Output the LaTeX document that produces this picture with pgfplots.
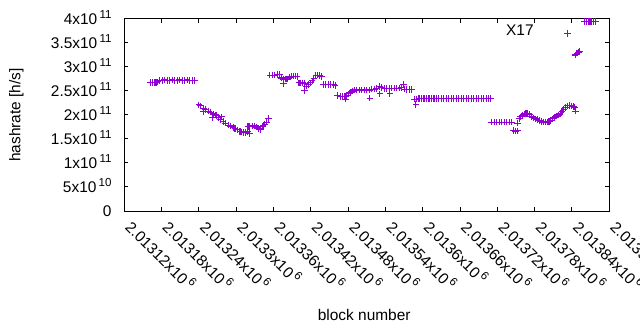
\documentclass[border=0pt]{standalone}
\usepackage{fontspec}
\setmainfont{Liberation Sans}
\usepackage{pgfplots}
\pgfplotsset{compat=1.18}
\definecolor{gpviolet}{RGB}{148,0,211}
\newcommand\ex[1]{\hspace{2.2bp}\smash{\raisebox{6.3bp}{\fontsize{11.6}{12}\selectfont #1}}}
\begin{document}
\fontsize{15.5}{18}\selectfont
\begin{tikzpicture}
\begin{axis}[
  at={(124.3bp,119bp)}, anchor=south west,
  scale only axis, width=485bp, height=192bp,
  xmin=2013120, xmax=2013900, ymin=0, ymax=4e11,
  scaled ticks=false,
  clip=false,
  axis line style={line width=1bp, black},
  tick style={line width=1bp, black},
  major tick length=4bp,
  tick align=inside,
  xtick={2013120,2013180,2013240,2013300,2013360,2013420,2013480,2013540,2013600,2013660,2013720,2013780,2013840,2013900},
  xticklabels={2.01312x10\ex{6},2.01318x10\ex{6},2.01324x10\ex{6},2.0133x10\ex{6},2.01336x10\ex{6},2.01342x10\ex{6},2.01348x10\ex{6},2.01354x10\ex{6},2.0136x10\ex{6},2.01366x10\ex{6},2.01372x10\ex{6},2.01378x10\ex{6},2.01384x10\ex{6},2.0139x10\ex{6}},
  ytick={0,5e10,1e11,1.5e11,2e11,2.5e11,3e11,3.5e11,4e11},
  yticklabels={0,5x10\ex{10},1x10\ex{11},1.5x10\ex{11},2x10\ex{11},2.5x10\ex{11},3x10\ex{11},3.5x10\ex{11},4x10\ex{11}},
  xticklabel shift=17bp,
  xticklabel style={rotate=-45, anchor=base west, inner sep=0pt},
  yticklabel style={anchor=east, inner sep=0pt, xshift=-12.6bp},
  xlabel={block number}, ylabel={hashrate [h/s]},
  every axis x label/.style={at={(rel axis cs:0.5,0)}, yshift=-104.1bp, xshift=-2.6bp, anchor=center},
  every axis y label/.style={at={(rel axis cs:0,0.5)}, xshift=-107.8bp, rotate=90, anchor=center},
  legend plot pos=right,
  legend style={draw=none, fill=none, inner sep=0pt, outer sep=0pt, at={(0.9212,0.934)}, anchor=east, nodes={inner sep=0pt}, column sep=30.8bp},
  legend image code/.code={\draw[#1, draw=gpviolet] plot coordinates {(0bp,-1.6bp)};},
]
\addplot[only marks, mark=+, mark size=3.3bp, draw=gpviolet, color=gpviolet, mark options={line width=1.1bp, draw=gpviolet, solid}] table[row sep=\\] {
x y \\
2013162 2.68e11 \\ 2013165 2.68e11 \\ 2013168 2.68e11 \\ 2013171 2.68e11 \\ 2013174 2.69e11 \\
2013177 2.72e11 \\ 2013181 2.72e11 \\ 2013185 2.73e11 \\ 2013189 2.72e11 \\ 2013193 2.72e11 \\
2013197 2.73e11 \\ 2013201 2.72e11 \\ 2013205 2.72e11 \\ 2013209 2.73e11 \\ 2013213 2.72e11 \\
2013217 2.72e11 \\ 2013221 2.73e11 \\ 2013225 2.72e11 \\ 2013229 2.72e11 \\ 2013233 2.72e11 \\
2013240 2.21e11 \\ 2013243 2.19e11 \\ 2013247 2.14e11 \\ 2013247 2.07e11 \\ 2013251 2.11e11 \\
2013255 2.08e11 \\ 2013259 2.06e11 \\ 2013262 1.95e11 \\ 2013263 2.02e11 \\ 2013266 2.00e11 \\
2013269 1.985e11 \\ 2013272 1.95e11 \\ 2013275 1.91e11 \\ 2013277 1.96e11 \\ 2013279 1.86e11 \\
2013283 1.83e11 \\ 2013287 1.79e11 \\ 2013291 1.77e11 \\ 2013295 1.74e11 \\ 2013298 1.72e11 \\
2013302 1.69e11 \\ 2013306 1.65e11 \\ 2013309 1.645e11 \\ 2013312 1.64e11 \\ 2013315 1.64e11 \\
2013318 1.65e11 \\ 2013319 1.76e11 \\ 2013321 1.62e11 \\ 2013322 1.76e11 \\ 2013326 1.77e11 \\
2013330 1.77e11 \\ 2013333 1.75e11 \\ 2013336 1.72e11 \\ 2013339 1.70e11 \\ 2013343 1.77e11 \\
2013346 1.81e11 \\ 2013349 1.85e11 \\ 2013352 1.93e11 \\
2013354 2.83e11 \\ 2013358 2.83e11 \\ 2013362 2.83e11 \\ 2013366 2.84e11 \\ 2013370 2.84e11 \\
2013373 2.77e11 \\ 2013376 2.75e11 \\ 2013376 2.66e11 \\ 2013380 2.75e11 \\ 2013383 2.75e11 \\
2013386 2.79e11 \\ 2013389 2.81e11 \\ 2013392 2.81e11 \\ 2013395 2.81e11 \\ 2013398 2.80e11 \\
2013401 2.67e11 \\ 2013404 2.67e11 \\ 2013407 2.67e11 \\ 2013410 2.66e11 \\ 2013410 2.51e11 \\
2013413 2.60e11 \\ 2013416 2.63e11 \\ 2013419 2.67e11 \\ 2013422 2.71e11 \\ 2013425 2.76e11 \\
2013428 2.83e11 \\ 2013431 2.83e11 \\ 2013434 2.82e11 \\ 2013437 2.80e11 \\ 2013440 2.64e11 \\
2013444 2.63e11 \\ 2013448 2.63e11 \\ 2013452 2.63e11 \\ 2013456 2.63e11 \\ 2013459 2.62e11 \\
2013463 2.40e11 \\ 2013467 2.39e11 \\ 2013471 2.385e11 \\ 2013475 2.38e11 \\ 2013476 2.33e11 \\
2013478 2.40e11 \\ 2013481 2.44e11 \\ 2013484 2.47e11 \\ 2013487 2.50e11 \\ 2013490 2.52e11 \\
2013494 2.52e11 \\ 2013498 2.52e11 \\ 2013502 2.52e11 \\ 2013506 2.52e11 \\ 2013510 2.52e11 \\
2013514 2.52e11 \\ 2013515 2.35e11 \\ 2013518 2.54e11 \\ 2013522 2.54e11 \\ 2013526 2.55e11 \\
2013530 2.59e11 \\ 2013531 2.44e11 \\ 2013534 2.57e11 \\ 2013538 2.55e11 \\ 2013542 2.55e11 \\
2013546 2.55e11 \\ 2013547 2.45e11 \\ 2013550 2.56e11 \\ 2013554 2.56e11 \\ 2013558 2.56e11 \\
2013562 2.56e11 \\ 2013566 2.57e11 \\ 2013569 2.64e11 \\ 2013570 2.54e11 \\ 2013574 2.53e11 \\
2013578 2.53e11 \\ 2013582 2.53e11 \\ 2013586 2.33e11 \\ 2013589 2.22e11 \\ 2013590 2.33e11 \\
2013594 2.34e11 \\ 2013598 2.34e11 \\ 2013602 2.34e11 \\ 2013606 2.34e11 \\ 2013610 2.34e11 \\
2013614 2.34e11 \\ 2013618 2.34e11 \\ 2013622 2.34e11 \\ 2013626 2.34e11 \\ 2013630 2.34e11 \\
2013634 2.34e11 \\ 2013638 2.34e11 \\ 2013642 2.34e11 \\ 2013646 2.34e11 \\ 2013650 2.34e11 \\
2013654 2.34e11 \\ 2013658 2.34e11 \\ 2013662 2.34e11 \\ 2013666 2.34e11 \\ 2013670 2.34e11 \\
2013674 2.34e11 \\ 2013678 2.34e11 \\ 2013682 2.34e11 \\ 2013686 2.34e11 \\ 2013690 2.34e11 \\
2013694 2.34e11 \\ 2013698 2.34e11 \\ 2013702 2.34e11 \\ 2013706 2.34e11 \\ 2013709 2.34e11 \\
2013711 1.85e11 \\ 2013715 1.85e11 \\ 2013719 1.85e11 \\ 2013723 1.85e11 \\ 2013727 1.85e11 \\
2013731 1.85e11 \\ 2013735 1.85e11 \\ 2013739 1.85e11 \\ 2013743 1.85e11 \\
2013746 1.68e11 \\ 2013749 1.665e11 \\ 2013752 1.67e11 \\ 2013752 1.83e11 \\ 2013755 1.93e11 \\
2013757 1.96e11 \\ 2013760 1.99e11 \\ 2013763 2.02e11 \\ 2013766 2.03e11 \\ 2013769 2.03e11 \\
2013772 2.01e11 \\ 2013775 1.97e11 \\ 2013778 1.94e11 \\ 2013781 1.92e11 \\ 2013784 1.90e11 \\
2013788 1.88e11 \\ 2013791 1.865e11 \\ 2013794 1.855e11 \\ 2013797 1.85e11 \\ 2013800 1.855e11 \\
2013803 1.87e11 \\ 2013806 1.89e11 \\ 2013809 1.92e11 \\ 2013812 1.95e11 \\ 2013815 1.98e11 \\
2013818 2.00e11 \\ 2013821 2.03e11 \\ 2013824 2.07e11 \\ 2013827 2.11e11 \\ 2013830 2.15e11 \\
2013833 2.19e11 \\ 2013836 2.20e11 \\ 2013839 2.19e11 \\ 2013842 2.18e11 \\ 2013844 2.165e11 \\
2013846 2.08e11 \\ 2013845 3.25e11 \\ 2013848 3.29e11 \\ 2013850 3.31e11 \\ 2013852 3.32e11 \\
2013860 3.95e11 \\ 2013863 3.95e11 \\ 2013866 3.95e11 \\ 2013869 3.95e11 \\ 2013872 3.95e11 \\
2013875 3.95e11 \\ 2013878 3.95e11 \\
};
\addlegendentry{X17}
\end{axis}
\pgfresetboundingbox
\path[use as bounding box] (0,0) rectangle (640bp,330bp);
\end{tikzpicture}
\end{document}
